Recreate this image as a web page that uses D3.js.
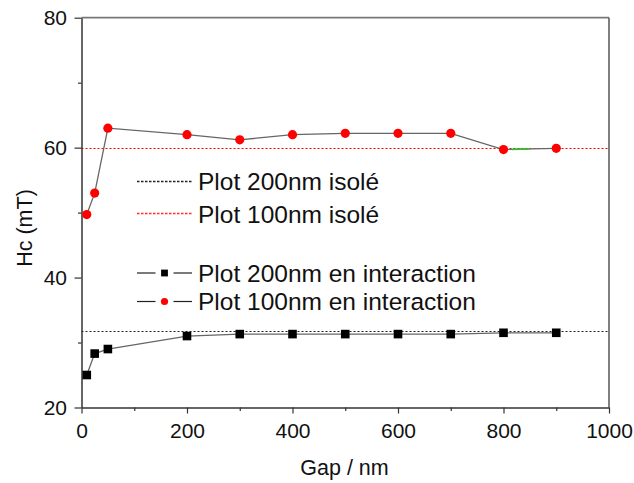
<!DOCTYPE html>
<html>
<head>
<meta charset="utf-8">
<script src="https://cdn.jsdelivr.net/npm/d3@7"></script>
<style>
  body { margin: 0; background: #fff; }
  svg { display: block; font-family: "Liberation Sans", Arial, sans-serif; }
</style>
</head>
<body>
<svg id="chart" width="634" height="483"></svg>
<script>
// ---- data ----
const gap200 = [10, 25, 50, 200, 300, 400, 500, 600, 700, 800, 900];
const hc200 = [25.0, 28.3, 29.0, 31.0, 31.3, 31.3, 31.3, 31.3, 31.3, 31.5, 31.5];
const gap100 = [10, 25, 50, 200, 300, 400, 500, 600, 700, 800, 900];
const hc100 = [49.7, 53.0, 63.0, 62.0, 61.2, 62.0, 62.2, 62.2, 62.2, 59.7, 59.9];
const isole200 = 31.7;
const isole100 = 60;
const xMajorTicks = [0, 200, 400, 600, 800, 1000];
const xMinorTicks = [100, 300, 500, 700, 900];
const yMajorTicks = [20, 40, 60, 80];
const yMinorTicks = [30, 50, 70];
const legendLabels = ["Plot 200nm isolé", "Plot 100nm isolé", "Plot 200nm en interaction", "Plot 100nm en interaction"];
const xTitle = "Gap / nm";
const yTitle = "Hc (mT)";

// ---- layout ----
const svg = d3.select("#chart");
const x = d3.scaleLinear().domain([0, 1000]).range([81.5, 609]);
const y = d3.scaleLinear().domain([20, 80]).range([407.5, 17.7]);
const axisColor = "#333";
const frameColor = "#777";
const fmt = d3.format("d");
const snap = v => Math.round(v) + 0.5;

// frame (top and right)
svg.append("line").attr("x1", x(0)).attr("x2", x(1000)).attr("y1", y(80)).attr("y2", y(80))
  .attr("stroke", frameColor).attr("stroke-width", 1.8);
svg.append("line").attr("x1", x(1000)).attr("x2", x(1000)).attr("y1", y(80)).attr("y2", y(20))
  .attr("stroke", "#555").attr("stroke-width", 1.5);

// reference lines
svg.append("line").attr("x1", x(0)).attr("x2", x(1000)).attr("y1", snap(y(isole200))).attr("y2", snap(y(isole200)))
  .attr("stroke", "#222").attr("stroke-width", 1).attr("stroke-dasharray", "2,2");
svg.append("line").attr("x1", x(0)).attr("x2", x(1000)).attr("y1", snap(y(isole100))).attr("y2", snap(y(isole100)))
  .attr("stroke", "#ff0000").attr("stroke-width", 1.2).attr("stroke-dasharray", "2,2");

// axes
function styleAxis(g) {
  g.selectAll(".domain").attr("stroke", axisColor).attr("stroke-width", 1.5);
  g.selectAll(".tick line").attr("stroke", axisColor).attr("stroke-width", 1.2);
  g.selectAll(".tick text").attr("fill", "#111").attr("font-size", 21)
    .attr("font-family", "'Liberation Sans', Arial, sans-serif");
}
const yAxis = svg.append("g").attr("transform", `translate(${x(0)},0)`)
  .call(d3.axisLeft(y).tickValues(yMajorTicks).tickFormat(fmt).tickSize(7).tickPadding(7.5).tickSizeOuter(0));
styleAxis(yAxis);
const yMinor = svg.append("g").attr("transform", `translate(${x(0)},0)`)
  .call(d3.axisLeft(y).tickValues(yMinorTicks).tickSize(3.5).tickFormat(""));
styleAxis(yMinor); yMinor.select(".domain").remove();

const xAxis = svg.append("g").attr("transform", `translate(0,${y(20)})`)
  .call(d3.axisBottom(x).tickValues(xMajorTicks).tickFormat(fmt).tickSize(6).tickPadding(9.5).tickSizeOuter(0));
styleAxis(xAxis);
const xMinor = svg.append("g").attr("transform", `translate(0,${y(20)})`)
  .call(d3.axisBottom(x).tickValues(xMinorTicks).tickSize(3.5).tickFormat(""));
styleAxis(xMinor); xMinor.select(".domain").remove();

// titles
svg.append("text").attr("x", 344.5).attr("y", 475).attr("text-anchor", "middle")
  .attr("font-size", 21.5).attr("fill", "#111").text(xTitle);
svg.append("text").attr("transform", "translate(31.5,228) rotate(-90)").attr("text-anchor", "middle")
  .attr("font-size", 21.5).attr("fill", "#111").text(yTitle);

// data lines
const line = d3.line().x(d => x(d[0])).y(d => y(d[1]));
const pts200 = gap200.map((g, i) => [g, hc200[i]]);
const pts100 = gap100.map((g, i) => [g, hc100[i]]);
svg.append("path").attr("d", line(pts200)).attr("fill", "none").attr("stroke", "#666").attr("stroke-width", 1.3);
svg.append("path").attr("d", line(pts100)).attr("fill", "none").attr("stroke", "#666").attr("stroke-width", 1.3);
// green artefact on the 800-900 segment
svg.append("path").attr("d", line(pts100.slice(9, 11))).attr("fill", "none")
  .attr("stroke", "#22cc22").attr("stroke-width", 1.5).attr("stroke-dasharray", "0,8,18,60");

// markers
svg.append("g").selectAll("rect").data(pts200).join("rect")
  .attr("x", d => x(d[0]) - 4.3).attr("y", d => y(d[1]) - 4.3)
  .attr("width", 8.6).attr("height", 8.6).attr("fill", "#000");
svg.append("g").selectAll("circle").data(pts100).join("circle")
  .attr("cx", d => x(d[0])).attr("cy", d => y(d[1])).attr("r", 4.6).attr("fill", "#ff0000");

// legend
const leg = svg.append("g");
const lx1 = 137, lx2 = 192, tx = 198;
const rows = [
  {ly: 181.5, ty: 190, type: "dash", color: "#222"},
  {ly: 213.5, ty: 222.5, type: "dash", color: "#ff2a2a"},
  {ly: 273, ty: 281.7, type: "square"},
  {ly: 301.5, ty: 310, type: "circle"}
];
rows.forEach((r, i) => {
  if (r.type === "dash") {
    leg.append("line").attr("x1", lx1).attr("x2", lx2).attr("y1", r.ly).attr("y2", r.ly)
      .attr("stroke", r.color).attr("stroke-width", 1.5).attr("stroke-dasharray", "2.5,1.5");
  } else {
    const cx = (lx1 + lx2) / 2;
    leg.append("line").attr("x1", lx1).attr("x2", cx - 9).attr("y1", r.ly).attr("y2", r.ly)
      .attr("stroke", "#222").attr("stroke-width", 1.2);
    leg.append("line").attr("x1", cx + 9).attr("x2", lx2).attr("y1", r.ly).attr("y2", r.ly)
      .attr("stroke", "#222").attr("stroke-width", 1.2);
    if (r.type === "square") {
      leg.append("rect").attr("x", cx - 3.4).attr("y", r.ly - 3.4).attr("width", 6.8).attr("height", 6.8).attr("fill", "#000");
    } else {
      leg.append("circle").attr("cx", cx).attr("cy", r.ly).attr("r", 3.6).attr("fill", "#ff0000");
    }
  }
  leg.append("text").attr("x", tx).attr("y", r.ty).attr("font-size", 24.5).attr("fill", "#111").text(legendLabels[i]);
});
</script>
</body>
</html>
